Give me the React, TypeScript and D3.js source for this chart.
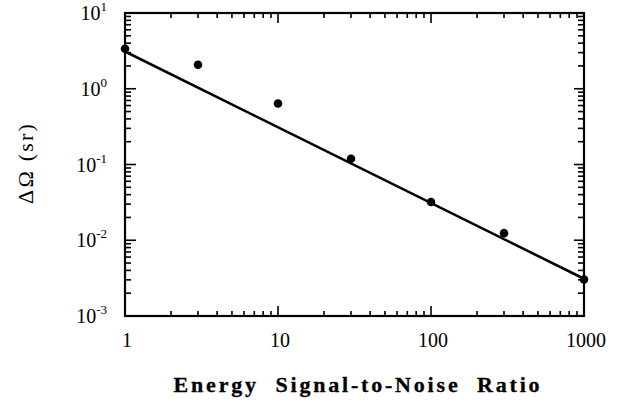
import React from "react";
import * as d3 from "d3";

const xVals = [1, 3, 10, 30, 100, 300, 1000];
const yVals = [3.37, 2.07, 0.64, 0.119, 0.032, 0.0124, 0.00303];
const fitX = [1, 1000];
const fitY = [3.1, 0.0031];
const xTickLabels = ["1", "10", "100", "1000"];
const yExponents = [1, 0, -1, -2, -3];

const W = 626, H = 402;
const left = 125, right = 584, top = 13, bottom = 316;
const FONT = "'Liberation Serif', 'Times New Roman', serif";

export default function App() {
  const x = d3.scaleLog().domain([1, 1000]).range([left, right]);
  const y = d3.scaleLog().domain([0.001, 10]).range([bottom, top]);

  const xMinor: number[] = [];
  for (let d = 1; d < 1000; d *= 10) for (let k = 2; k <= 9; k++) xMinor.push(d * k);
  const yMinor: number[] = [];
  for (let d = 0.001; d < 9; d *= 10) for (let k = 2; k <= 9; k++) yMinor.push(d * k);
  const xMajor = xTickLabels.map(Number);
  const yMajor = yExponents.map((e) => Math.pow(10, e));

  const line = d3.line<number>().x((_, i) => x(fitX[i])).y((v) => y(v));
  const MAJ = 10, MIN = 5;

  return (
    <svg width={W} height={H} style={{ position: "absolute", left: 0, top: 0, background: "#fff" }}>
      <rect x={0} y={0} width={W} height={H} fill="#fff" />
      <g stroke="#000" strokeWidth={1.6}>
        {xMinor.map((v) => (
          <g key={"xm" + v}>
            <line x1={x(v)} x2={x(v)} y1={bottom} y2={bottom - MIN} />
            <line x1={x(v)} x2={x(v)} y1={top} y2={top + MIN} />
          </g>
        ))}
        {xMajor.map((v) => (
          <g key={"xM" + v}>
            <line x1={x(v)} x2={x(v)} y1={bottom} y2={bottom - MAJ} />
            <line x1={x(v)} x2={x(v)} y1={top} y2={top + MAJ} />
          </g>
        ))}
        {yMinor.map((v) => (
          <g key={"ym" + v}>
            <line x1={left} x2={left + MIN + 1} y1={y(v)} y2={y(v)} />
            <line x1={right} x2={right - MIN - 1} y1={y(v)} y2={y(v)} />
          </g>
        ))}
        {yMajor.map((v) => (
          <g key={"yM" + v}>
            <line x1={left} x2={left + MAJ + 1} y1={y(v)} y2={y(v)} />
            <line x1={right} x2={right - MAJ} y1={y(v)} y2={y(v)} />
          </g>
        ))}
      </g>
      <rect x={left} y={top} width={right - left} height={bottom - top} fill="none" stroke="#000" strokeWidth={2.2} />
      <path d={line(fitY) || ""} fill="none" stroke="#000" strokeWidth={2.6} />
      {xVals.map((v, i) => (
        <circle key={"p" + i} cx={x(v)} cy={y(yVals[i])} r={4.3} fill="#000" />
      ))}
      <g fontFamily={FONT} fill="#000">
        {xMajor.map((v, i) => (
          <text key={"xl" + v} x={x(v) + 2} y={347} fontSize={20} textAnchor="middle">
            {xTickLabels[i]}
          </text>
        ))}
        {yExponents.map((e) => (
          <text key={"yl" + e} x={107} y={y(Math.pow(10, e)) + 7} fontSize={20} textAnchor="end">
            10
            <tspan fontSize={13} dy={-9}>{e < 0 ? "-" + Math.abs(e) : String(e)}</tspan>
          </text>
        ))}
        <text
          x={358}
          y={392}
          fontSize={22}
          fontWeight="bold"
          letterSpacing={2.8}
          stroke="#000"
          strokeWidth={0.3}
          textAnchor="middle"
          style={{ whiteSpace: "pre" }}
        >
          {"Energy  Signal-to-Noise  Ratio"}
        </text>
        <text
          transform={`translate(33, 163) rotate(-90)`}
          fontSize={22}
          letterSpacing={2.2}
          textAnchor="middle"
        >
          ΔΩ (sr)
        </text>
      </g>
    </svg>
  );
}
